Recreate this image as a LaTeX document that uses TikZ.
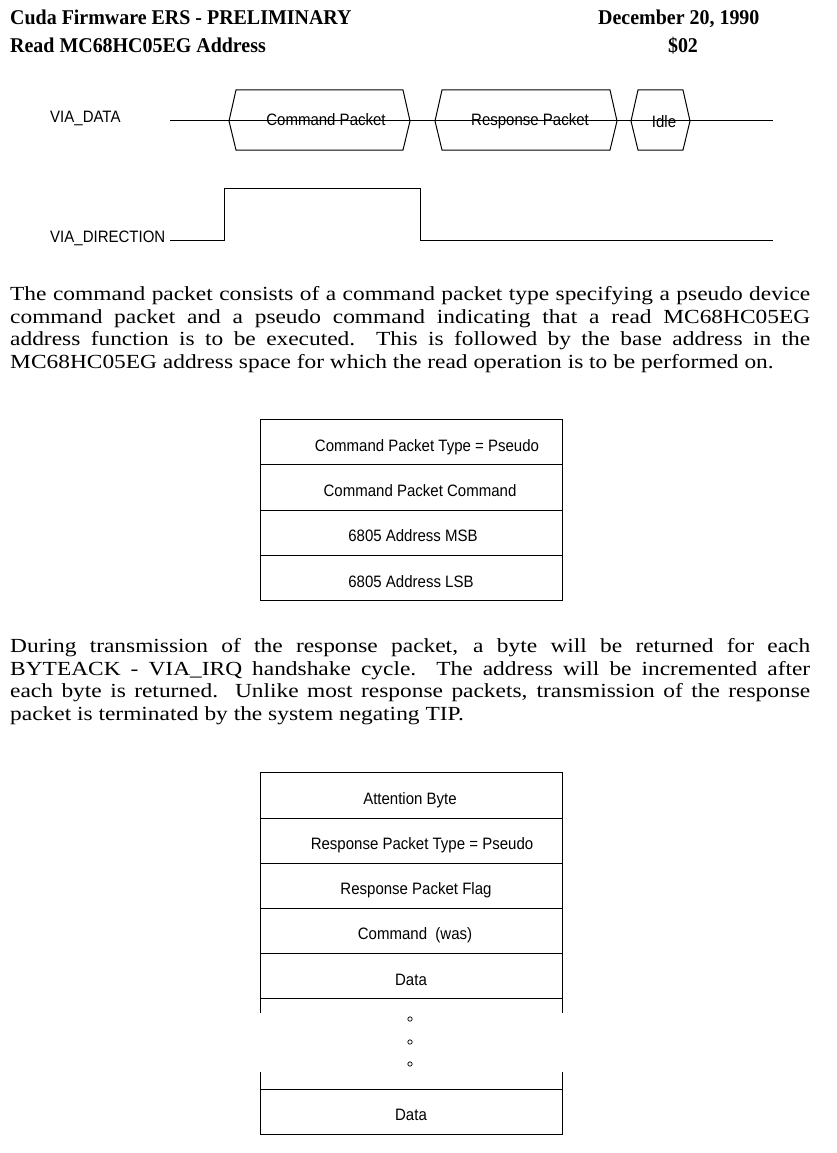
\documentclass[tikz,border=0pt]{standalone}
\usepackage{fontspec}
\setmainfont{Liberation Serif}
\newfontfamily\bodyf[FakeStretch=1.17]{Liberation Serif}
\newfontfamily\hdrf[FakeStretch=0.95]{Liberation Serif}
\newfontfamily\arialf[FakeStretch=0.91]{Liberation Sans}
\begin{document}
\begin{tikzpicture}[x=1pt,y=-1pt,
  hdr/.style={inner sep=0pt,font=\hdrf\fontsize{21}{23}\selectfont\bfseries},
  lbl/.style={inner sep=0pt,anchor=base,font=\arialf\fontsize{16.5}{18}\selectfont},
  sig/.style={lbl,anchor=base west},
  body/.style={inner sep=0pt,anchor=north west,text width=800pt,align=justify,font=\bodyf\fontsize{20}{22.8}\selectfont},
  wire/.style={line width=1pt,black},
  cell/.style={line width=1pt,black}]
\useasboundingbox (0,0) rectangle (836,1153);
\fill[white] (0,0) rectangle (836,1153);
% header
\node[hdr,anchor=base west] (h1) at (10,25) {Cuda Firmware ERS - PRELIMINARY};
\node[hdr,anchor=base west] (h2) at (10,53) {Read MC68HC05EG Address};
\node[hdr,anchor=base west] (h3) at (598,25) {December 20, 1990};
\node[hdr,anchor=base] (h4) at (683,53) {\$02};
% timing: VIA_DATA
\node[sig] (vd) at (50,122) {VIA\_DATA};
\coordinate (ds) at (170,121);
\coordinate (de) at (773,121);
\draw[wire] (ds) -- (de);
\draw[wire] (236,90) -- (403,90) -- (410,121) -- (403,150) -- (236,150) -- (229,121) -- cycle;
\draw[wire] (442,90) -- (610,90) -- (617,121) -- (610,150) -- (442,150) -- (435,121) -- cycle;
\draw[wire] (638,90) -- (683,90) -- (690,121) -- (683,150) -- (638,150) -- (631,121) -- cycle;
\node[lbl] (cp) at (326,125) {Command Packet};
\node[lbl] (rp) at (530,125) {Response Packet};
\node[lbl] (idle) at (664,128) {Idle};
% VIA_DIRECTION
\node[sig] (vdir) at (50,242) {VIA\_DIRECTION};
\coordinate (r0) at (170,240);
\coordinate (r3) at (773,240);
\draw[wire] (r0) -- (224,240) -- (224,188) -- (420,188) -- (420,240) -- (r3);
% paragraph 1
\node[body] (p1) at (10,286) {The command packet consists of a command packet type specifying a pseudo device\linebreak
command packet and a pseudo command indicating that a read MC68HC05EG\linebreak
address function is to be executed.\ \ This is followed by the base address in the\linebreak
MC68HC05EG address space for which the read operation is to be performed on.};
% table 1
\draw[cell] (260,419) rectangle (562,600);
\draw[cell] (260,464) -- (562,464);
\draw[cell] (260,510) -- (562,510);
\draw[cell] (260,555) -- (562,555);
\node[lbl] (t1a) at (427,451) {Command Packet Type = Pseudo};
\node[lbl] (t1b) at (420,496) {Command Packet Command};
\node[lbl] (t1c) at (413,541) {6805 Address MSB};
\node[lbl] (t1d) at (411,587) {6805 Address LSB};
% paragraph 2
\node[body] (p2) at (10,638) {During transmission of the response packet, a byte will be returned for each\linebreak
BYTEACK - VIA\_IRQ handshake cycle.\ \ The address will be incremented after\linebreak
each byte is returned.\ \ Unlike most response packets, transmission of the response\linebreak
packet is terminated by the system negating TIP.};
% table 2
\draw[cell] (260,1013) -- (260,772) -- (562,772) -- (562,1013);
\draw[cell] (260,818) -- (562,818);
\draw[cell] (260,863) -- (562,863);
\draw[cell] (260,908) -- (562,908);
\draw[cell] (260,953) -- (562,953);
\draw[cell] (260,998) -- (562,998);
\draw[cell] (260,1072) -- (260,1134) -- (562,1134) -- (562,1072);
\draw[cell] (260,1089) -- (562,1089);
\node[lbl] (t2a) at (410,804) {Attention Byte};
\node[lbl] (t2b) at (422,849) {Response Packet Type = Pseudo};
\node[lbl] (t2c) at (416,894) {Response Packet Flag};
\node[lbl] (t2d) at (415,939) {Command\ \ (was)};
\node[lbl] (t2e) at (411,985) {Data};
\node[lbl] (t2f) at (411,1120) {Data};
\draw[line width=0.7pt] (410,1019) circle (2.2);
\draw[line width=0.7pt] (410,1042) circle (2.2);
\draw[line width=0.7pt] (410,1064) circle (2.2);
\end{tikzpicture}
\end{document}
